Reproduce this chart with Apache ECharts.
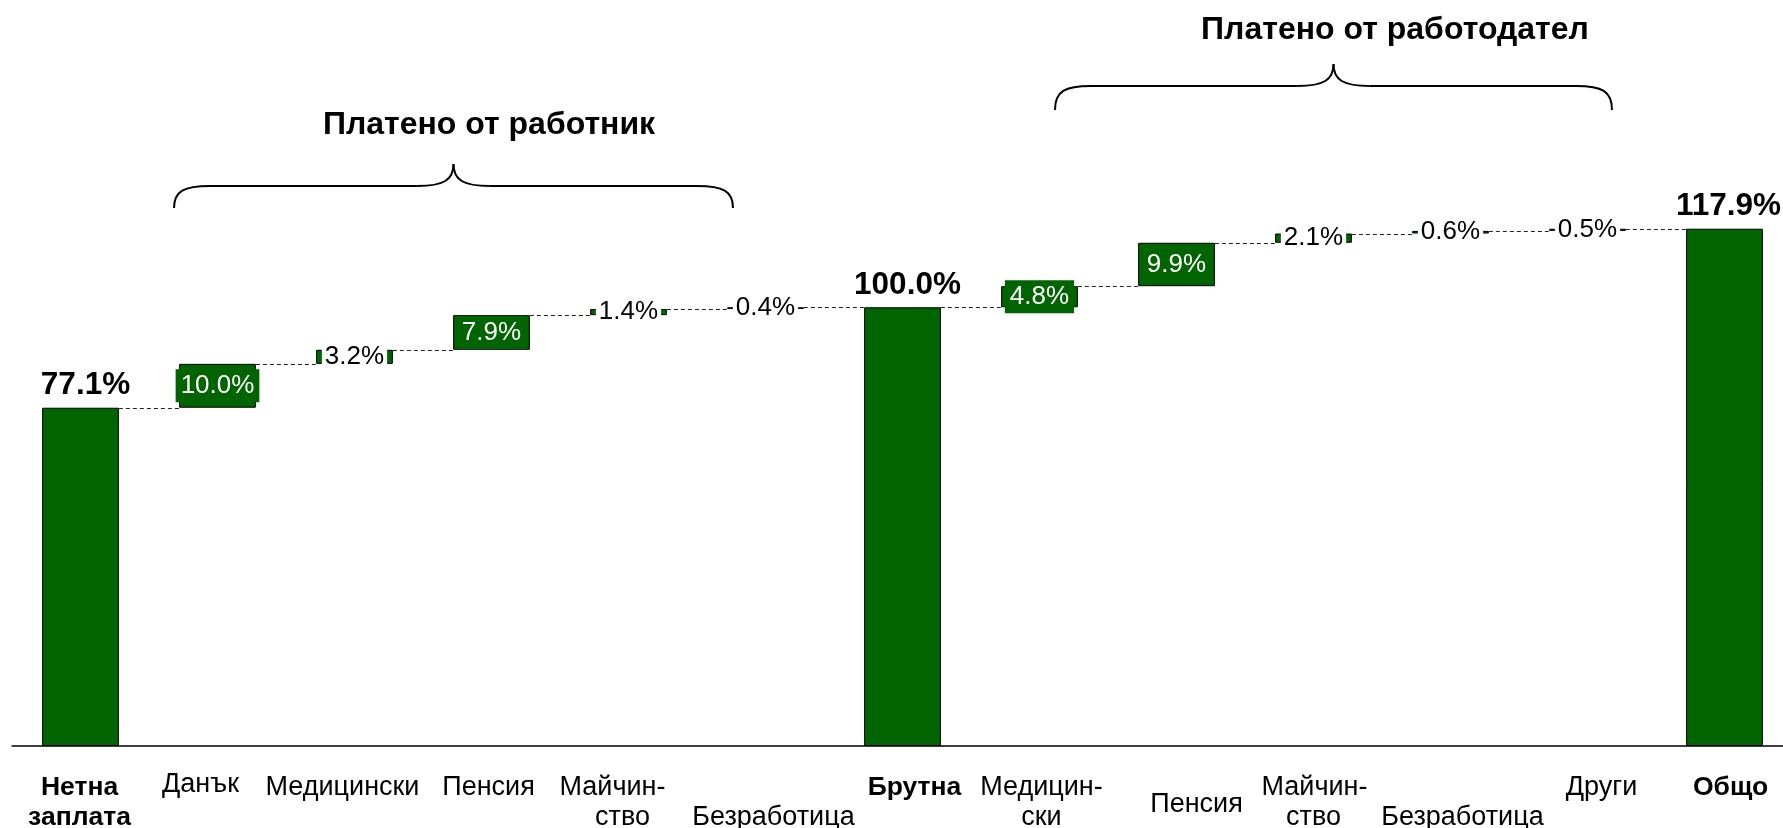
<!DOCTYPE html>
<html><head><meta charset="utf-8">
<script src="https://cdn.jsdelivr.net/npm/echarts@6/dist/echarts.min.js"></script>
<style>html,body{margin:0;padding:0;background:#fff}#c{width:1783px;height:828px}</style>
</head><body><div id="c"></div>
<script>
// ---- data ----
const categories = ['Нетна\nзаплата','Данък','Медицински','Пенсия','Майчин-\nство','Безработица','Брутна','Медицин-\nски','Пенсия','Майчин-\nство','Безработица','Други','Общо'];
const values = [77.1, 10.0, 3.2, 7.9, 1.4, 0.4, 100.0, 4.8, 9.9, 2.1, 0.6, 0.5, 117.9];
const isTotal = [true,false,false,false,false,false,true,false,false,false,false,false,true];
const groupTitles = ['Платено от работник','Платено от работодател'];

// ---- layout / style ----
const FONT = '"Liberation Sans", Arial, sans-serif';
const GREEN = '#006400';
const BAR_RATIO = 0.56;
const labelShift = [3,0,3,3,3,33,3,3,20,3,33,3,3];             // px down
const labelDx = [[-1,-1],[-17],[-12],[-3],[-16,-6],[8],[12],[2,2],[20],[1,0],[12],[14],[6]]; // px right per line
const totalLabelDx = {0:5, 6:5, 12:4};

// derived cumulative positions
const bases = [], tops = [];
let run = 0;
values.forEach((v,i)=>{
  if (isTotal[i]) { bases.push(0); run = v; tops.push(v); }
  else { bases.push(+run.toFixed(4)); run += v; tops.push(+run.toFixed(4)); }
});

const rich = {};
categories.forEach((c,i)=>{
  const tot = isTotal[i];
  c.split('\n').forEach((l,k)=>{
    const dx = (labelDx[i] && labelDx[i][k]) || 0;
    rich['t'+i+'_'+k] = {fontSize: tot?26.5:27, fontFamily:FONT, fontWeight: tot?'bold':'normal', color:'#000', lineHeight:30, align:'center',
      padding:[0, dx<0?-2*dx:0, 0, dx>0?2*dx:0]};
  });
  if (labelShift[i] > 0) rich['p'+i] = {fontSize:1, lineHeight:labelShift[i], align:'center'};
});
function catFormatter(v, i) {
  const lines = v.split('\n').map((l,k) => '{t'+i+'_'+k+'|'+l+'}');
  if (labelShift[i] > 0) lines.unshift('{p'+i+'| }');
  return lines.join('\n');
}

const pct = p => p.value.toFixed(1) + '%';
const valData = values.map((v,i)=>{
  let label;
  if (isTotal[i]) {
    label = {show:true, position:'top', distance:6, offset:[totalLabelDx[i]||0,0], fontSize:31.5, fontWeight:'bold', color:'#000', fontFamily:FONT};
  } else if (v >= 4) {
    label = {show:true, position:'inside', fontSize:26, color:'#fff', fontFamily:FONT, backgroundColor:GREEN, padding:[3,5], lineHeight:27};
  } else {
    label = {show:true, position:'inside', fontSize:26, color:'#000', fontFamily:FONT, backgroundColor:'#fff', padding:[2,3], lineHeight:26};
  }
  return {value:v, label};
});

const connData = [];
for (let i=0;i<values.length-1;i++) connData.push([i, tops[i]]);

function bracket(x0, x1, yE, yH, yP) {
  const pk = (x0+x1)/2, r = 36;
  const st = {stroke:'#000', lineWidth:2, fill:null};
  return [
    {type:'bezierCurve', shape:{x1:x0,y1:yE,cpx1:x0,cpy1:yH+5,cpx2:x0+10,cpy2:yH,x2:x0+r,y2:yH}, style:st},
    {type:'line', shape:{x1:x0+r,y1:yH,x2:pk-r,y2:yH}, style:st},
    {type:'bezierCurve', shape:{x1:pk-r,y1:yH,cpx1:pk-10,cpy1:yH,cpx2:pk,cpy2:yH-6,x2:pk,y2:yP}, style:st},
    {type:'bezierCurve', shape:{x1:pk,y1:yP,cpx1:pk,cpy1:yH-6,cpx2:pk+10,cpy2:yH,x2:pk+r,y2:yH}, style:st},
    {type:'line', shape:{x1:pk+r,y1:yH,x2:x1-r,y2:yH}, style:st},
    {type:'bezierCurve', shape:{x1:x1-r,y1:yH,cpx1:x1-10,cpy1:yH,cpx2:x1,cpy2:yH+5,x2:x1,y2:yE}, style:st}
  ];
}

const chart = echarts.init(document.getElementById('c'), null, {renderer:'canvas'});
chart.setOption({
  animation:false,
  backgroundColor:'#fff',
  grid:{left:12, right:-10, top:44, bottom:82, containLabel:false, outerBoundsMode:'none'},
  xAxis:{
    type:'category', data:categories,
    axisLine:{show:true, lineStyle:{color:'#000', width:1.5}},
    axisTick:{show:false},
    axisLabel:{interval:0, margin:24, formatter:catFormatter, rich, hideOverlap:false}
  },
  yAxis:{type:'value', min:0, max:160, show:false, splitLine:{show:false}},
  series:[
    {type:'bar', stack:'w', data:bases, barWidth:(BAR_RATIO*100)+'%', itemStyle:{color:'rgba(0,0,0,0)', borderWidth:0}, silent:true, label:{show:false}},
    {type:'bar', stack:'w', data:valData, barWidth:(BAR_RATIO*100)+'%', itemStyle:{color:GREEN, borderColor:'#000', borderWidth:1}, label:{formatter:pct}},
    {type:'custom', data:connData, z:1, silent:true,
      renderItem(params, api){
        const i = api.value(0), y = api.value(1);
        const p1 = api.coord([i, y]), p2 = api.coord([i+1, y]);
        const hw = api.size([1,0])[0]*BAR_RATIO/2;
        return {type:'line', shape:{x1:p1[0]+hw, y1:Math.round(p1[1])+0.5, x2:p2[0]-hw, y2:Math.round(p2[1])+0.5}, style:{stroke:'#222', lineWidth:1, lineDash:[4,3]}};
      }}
  ],
  graphic:[
    {type:'text', x:489, y:125, style:{text:groupTitles[0], font:'bold 32px '+FONT, fill:'#000', textAlign:'center', textVerticalAlign:'middle'}},
    {type:'text', x:1395, y:30, style:{text:groupTitles[1], font:'bold 32px '+FONT, fill:'#000', textAlign:'center', textVerticalAlign:'middle'}},
    ...bracket(174, 733, 208, 186, 164),
    ...bracket(1055, 1612, 110, 86, 64)
  ]
});
</script></body></html>
